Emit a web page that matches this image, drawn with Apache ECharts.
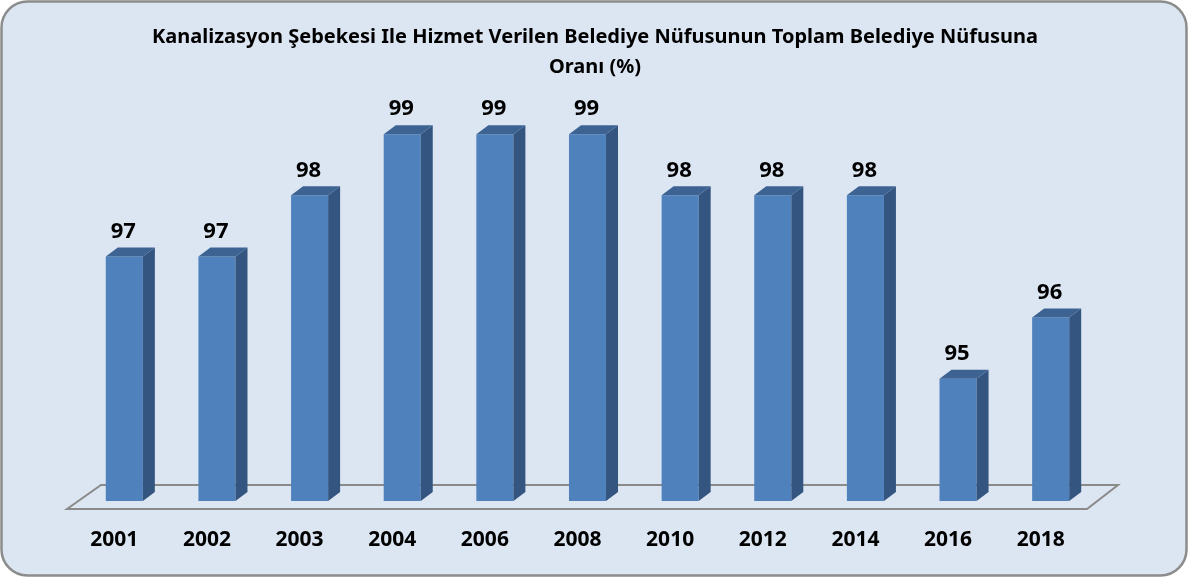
<!DOCTYPE html>
<html>
<head>
<meta charset="utf-8">
<script src="https://cdn.jsdelivr.net/npm/echarts@6/dist/echarts.min.js"></script>
<style>
  html, body { margin: 0; padding: 0; background: #ffffff; }
  #chart { width: 1190px; height: 579px; }
</style>
</head>
<body>
<div id="chart"></div>
<script>
  const years = ['2001', '2002', '2003', '2004', '2006', '2008', '2010', '2012', '2014', '2016', '2018'];
  const ratios = [97, 97, 98, 99, 99, 99, 98, 98, 98, 95, 96];
  const titleText = 'Kanalizasyon Şebekesi Ile Hizmet Verilen Belediye Nüfusunun Toplam Belediye Nüfusuna\nOranı (%)';

  const FONT = "'Noto Sans', sans-serif";
  const Y_MIN = 93;
  const DX = 12, DY = 9;
  const FRONT = '#4f81bd', SIDE = '#33557f', TOP = '#3d6393';

  function renderBar(params, api) {
    const idx = api.value(0);
    const val = api.value(1);
    const top = api.coord([idx, val]);
    const base = api.coord([idx, Y_MIN]);
    const w = api.size([1, 0])[0] * 0.4;
    const x0 = top[0] - w / 2, x1 = top[0] + w / 2;
    const yt = top[1], yb = base[1];
    return {
      type: 'group',
      children: [
        { type: 'rect', shape: { x: x0, y: yt, width: w, height: yb - yt }, style: { fill: FRONT } },
        { type: 'polygon', shape: { points: [[x1, yt], [x1 + DX, yt - DY], [x1 + DX, yb - DY], [x1, yb]] }, style: { fill: SIDE } },
        { type: 'polygon', shape: { points: [[x0, yt], [x0 + DX, yt - DY], [x1 + DX, yt - DY], [x1, yt]] }, style: { fill: TOP } },
        {
          type: 'text',
          style: {
            x: top[0] - 1, y: yt - DY - 16, text: String(val),
            align: 'center', verticalAlign: 'middle',
            font: 'bold 22px ' + FONT, fill: '#000000'
          }
        }
      ]
    };
  }

  function renderFloor(params, api) {
    const cs = params.coordSys;
    const yb = api.coord([0, Y_MIN])[1];
    const l = cs.x, r = cs.x + cs.width;
    return {
      type: 'polygon',
      shape: { points: [[l - 11, yb + 8], [l + 23, yb - 16], [r + 21, yb - 16], [r - 10, yb + 8]] },
      style: { fill: 'none', stroke: '#8a8a8a', lineWidth: 2 }
    };
  }

  const chart = echarts.init(document.getElementById('chart'), null, { renderer: 'canvas' });
  chart.setOption({
    animation: false,
    backgroundColor: 'transparent',
    graphic: [
      {
        type: 'rect', z: -10, silent: true,
        shape: { x: 1.5, y: 1.5, width: 1185, height: 574, r: 26 },
        style: { fill: '#dce6f2', stroke: '#8c8c8c', lineWidth: 2.5 }
      },
      {
        type: 'text', z: 10, silent: true,
        style: {
          x: 595, y: 22, text: titleText,
          align: 'center', verticalAlign: 'top',
          font: 'bold 20px ' + FONT, lineHeight: 30, fill: '#000000'
        }
      }
    ],
    grid: { left: 78, right: 93, top: 73, bottom: 78 },
    xAxis: {
      type: 'category', data: years,
      axisLine: { show: false }, axisTick: { show: false },
      axisLabel: { margin: 29, padding: [0, 20, 0, 0], fontFamily: FONT, fontWeight: 'bold', fontSize: 21, color: '#000000' }
    },
    yAxis: { type: 'value', min: Y_MIN, max: 100, show: false },
    series: [
      { type: 'custom', renderItem: renderFloor, data: [[0, Y_MIN]], z: 1, silent: true },
      { type: 'custom', renderItem: renderBar, data: ratios.map((v, i) => [i, v]), z: 2 }
    ]
  });
</script>
</body>
</html>
